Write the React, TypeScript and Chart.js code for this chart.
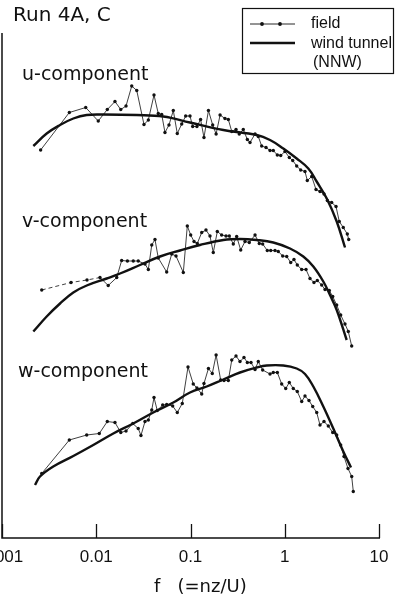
import { useEffect, useRef } from "react";
import { Chart, registerables } from "chart.js";

Chart.register(...registerables);

// Frequency axis ticks
const FREQ_TICKS = [0.001, 0.01, 0.1, 1, 10];
const FREQ_TICK_LABELS = ["0.001", "0.01", "0.1", "1", "10"];

// u-component
const uFieldF = [0.00257, 0.00518, 0.00773, 0.0105, 0.0131, 0.0158, 0.0182, 0.0207, 0.0238, 0.0269, 0.0321, 0.0357, 0.041, 0.0455, 0.0495, 0.0536, 0.0591, 0.0657, 0.0724, 0.0807, 0.0889, 0.0988, 0.1055, 0.117, 0.128, 0.139, 0.155, 0.172, 0.187, 0.206, 0.232, 0.252, 0.274, 0.304, 0.329, 0.363, 0.401, 0.428, 0.484, 0.524, 0.569, 0.633, 0.698, 0.756, 0.834, 0.906, 1.006, 1.118, 1.215, 1.339, 1.476, 1.64, 1.735, 1.932, 2.146, 2.366, 2.609, 2.83, 3.148, 3.5, 3.79, 4.18, 4.61, 4.77];
const uFieldS = [77.6, 85.1, 86.1, 83.4, 85.7, 87.3, 85.7, 86.4, 90.4, 89.5, 82.7, 83.6, 88.6, 84.9, 84.7, 81.1, 82.6, 85.5, 80.9, 82.8, 84.4, 84.4, 82.3, 82.3, 83.7, 80.1, 85.5, 82.6, 80.8, 84.6, 83.9, 83.7, 81.3, 81.7, 80.8, 81.7, 79.7, 79.1, 80.8, 80.3, 78.4, 78.1, 77.5, 77.5, 76.6, 76.5, 77.3, 76.1, 75.5, 74.4, 73.6, 73.3, 71.5, 72.3, 69.7, 69.3, 68.8, 67.5, 67.1, 66.3, 63.3, 62.1, 60.8, 59.7];
const uTunnelF = [0.00215, 0.00298, 0.00413, 0.00571, 0.00792, 0.0119, 0.0269, 0.0515, 0.0988, 0.223, 0.504, 0.698, 0.965, 1.339, 1.778, 2.18, 2.79, 3.56, 4.36];
const uTunnelS = [78.4, 80.9, 82.6, 83.9, 84.6, 84.7, 84.6, 84.3, 83.1, 81.6, 80.6, 79.6, 77.9, 75.9, 73.9, 71.3, 67.9, 63.3, 58.1];

// v-component
const vFieldF = [0.00264, 0.0054, 0.00798, 0.01096, 0.0134, 0.0165, 0.0186, 0.0214, 0.0247, 0.0279, 0.0329, 0.0357, 0.0388, 0.042, 0.0455, 0.0559, 0.0632, 0.0702, 0.0839, 0.0925, 0.1005, 0.109, 0.118, 0.1315, 0.146, 0.161, 0.1745, 0.1925, 0.214, 0.238, 0.258, 0.2845, 0.309, 0.341, 0.3786, 0.4206, 0.484, 0.537, 0.583, 0.653, 0.71, 0.788, 0.854, 0.951, 1.049, 1.157, 1.253, 1.359, 1.513, 1.681, 1.853, 2.043, 2.215, 2.466, 2.674, 2.97, 3.227, 3.557, 3.923, 4.357, 4.724, 5.133];
const vFieldS = [49.6, 51.1, 51.6, 52.1, 50.5, 52.1, 55.5, 55.4, 55.4, 55.4, 54.8, 53.7, 58.6, 59.7, 56.0, 53.2, 56.8, 56.4, 53.1, 62.4, 60.6, 59.3, 58.9, 61.1, 61.6, 60.4, 57.1, 61.3, 60.6, 60.4, 60.4, 58.8, 60.3, 57.6, 59.3, 59.1, 60.6, 58.9, 58.8, 57.5, 57.5, 57.5, 57.3, 56.4, 56.3, 55.1, 55.7, 54.6, 53.7, 53.7, 51.9, 51.1, 51.5, 50.6, 49.7, 49.5, 48.3, 46.6, 44.6, 42.8, 41.3, 38.4];
const vTunnelF = [0.00215, 0.00298, 0.00413, 0.00571, 0.00792, 0.0129, 0.0179, 0.0291, 0.0475, 0.0774, 0.126, 0.223, 0.335, 0.504, 0.756, 1.137, 1.573, 2.01, 2.565, 3.02, 3.56, 4.54];
const vTunnelS = [41.3, 44.3, 46.9, 49.1, 50.5, 51.9, 52.9, 54.6, 56.3, 57.5, 58.6, 59.6, 59.8, 59.6, 59.1, 57.9, 56.3, 54.3, 51.3, 48.6, 45.6, 39.6];
// the first few field segments of v are only dashed
const vDashedUntil = 3;

// w-component
const wFieldF = [0.00264, 0.00518, 0.00792, 0.01077, 0.0131, 0.0158, 0.0182, 0.0207, 0.0244, 0.0279, 0.0298, 0.0329, 0.0357, 0.0388, 0.041, 0.0444, 0.0507, 0.0559, 0.0647, 0.0724, 0.0818, 0.0941, 0.107, 0.117, 0.1315, 0.139, 0.155, 0.1703, 0.187, 0.209, 0.2267, 0.252, 0.274, 0.304, 0.335, 0.3694, 0.401, 0.4385, 0.484, 0.524, 0.583, 0.698, 0.756, 0.834, 0.928, 1.024, 1.118, 1.232, 1.359, 1.513, 1.64, 1.808, 1.98, 2.183, 2.366, 2.609, 2.898, 3.227, 3.557, 3.923, 4.253, 4.69, 5.133, 5.337];
const wFieldS = [12.9, 19.6, 20.6, 20.9, 23.3, 23.1, 21.1, 21.4, 22.9, 21.9, 20.5, 23.3, 23.6, 25.6, 28.1, 25.5, 26.6, 26.7, 26.4, 25.1, 26.9, 34.2, 30.8, 30.0, 28.8, 30.9, 33.9, 32.9, 36.6, 31.6, 31.5, 31.5, 35.6, 36.4, 35.3, 36.1, 35.1, 35.1, 33.7, 35.3, 33.6, 32.8, 33.1, 33.1, 30.8, 29.9, 31.1, 29.9, 29.3, 27.3, 28.4, 27.5, 26.3, 25.1, 22.6, 23.3, 22.4, 21.1, 20.6, 18.6, 16.3, 13.9, 12.3, 9.3];
const wTunnelF = [0.00224, 0.00253, 0.0035, 0.00571, 0.0093, 0.01517, 0.0247, 0.0403, 0.0657, 0.0988, 0.1486, 0.223, 0.335, 0.504, 0.6435, 0.965, 1.339, 1.64, 2.01, 2.565, 3.274, 4.18, 5.046];
const wTunnelS = [10.6, 12.3, 14.3, 16.4, 18.6, 20.9, 22.9, 25.1, 27.1, 29.1, 30.3, 31.7, 33.1, 34.1, 34.5, 34.5, 33.9, 32.8, 30.3, 26.3, 21.9, 17.3, 14.1];

const TITLE = "Run 4A, C";
const COMPONENT_LABELS = ["u-component", "v-component", "w-component"];
const AXIS_TITLE = "f   (=nz/U)";
const LEGEND_FIELD = "field";
const LEGEND_TUNNEL = ["wind tunnel", "(NNW)"];

const INK = "#111";

const zip = (f: number[], s: number[]) => f.map((x, i) => ({ x, y: s[i] }));

const fieldStyle = {
  showLine: true,
  borderColor: "#2a2a2a",
  borderWidth: 0.9,
  pointRadius: 1.7,
  pointHoverRadius: 1.7,
  pointBackgroundColor: INK,
  pointBorderWidth: 0,
  tension: 0,
};

const tunnelStyle = {
  showLine: true,
  borderColor: INK,
  borderWidth: 2.4,
  pointRadius: 0,
  tension: 0.4,
};

// Axes, inward ticks, labels and the boxed legend
const decorations = {
  id: "decorations",
  afterDraw(chart: any) {
    const { ctx, chartArea } = chart;
    const xs = chart.scales.x;
    ctx.save();
    ctx.strokeStyle = INK;
    ctx.fillStyle = INK;

    // frame: left and bottom axis lines
    ctx.lineWidth = 1.5;
    ctx.beginPath();
    ctx.moveTo(chartArea.left, chartArea.top);
    ctx.lineTo(chartArea.left, chartArea.bottom);
    ctx.lineTo(chartArea.right + 1, chartArea.bottom);
    ctx.stroke();

    // inward tick marks
    ctx.lineWidth = 1.3;
    FREQ_TICKS.forEach((v) => {
      const px = Math.round(xs.getPixelForValue(v)) + 0.5;
      ctx.beginPath();
      ctx.moveTo(px, chartArea.bottom);
      ctx.lineTo(px, chartArea.bottom - 14);
      ctx.stroke();
    });

    // headline
    ctx.textBaseline = "alphabetic";
    ctx.textAlign = "left";
    ctx.font = "20px 'DejaVu Sans'";
    ctx.fillText(TITLE, 13, 21);

    // component labels
    ctx.font = "19px 'DejaVu Sans'";
    ctx.fillText(COMPONENT_LABELS[0], 22, 80);
    ctx.fillText(COMPONENT_LABELS[1], 22, 227);
    ctx.fillText(COMPONENT_LABELS[2], 18, 377);

    // axis title
    ctx.font = "18px 'DejaVu Sans'";
    ctx.fillText(AXIS_TITLE, 154, 592);

    // legend box
    ctx.lineWidth = 1.2;
    ctx.strokeRect(242.5, 8.5, 151, 65);
    ctx.lineWidth = 0.9;
    ctx.beginPath();
    ctx.moveTo(250, 24);
    ctx.lineTo(295, 24);
    ctx.stroke();
    [262, 280].forEach((cx) => {
      ctx.beginPath();
      ctx.arc(cx, 24, 1.9, 0, Math.PI * 2);
      ctx.fill();
    });
    ctx.lineWidth = 2.4;
    ctx.beginPath();
    ctx.moveTo(250, 43);
    ctx.lineTo(295, 43);
    ctx.stroke();
    ctx.font = "16px 'Liberation Sans'";
    ctx.textBaseline = "middle";
    ctx.fillText(LEGEND_FIELD, 311, 24);
    ctx.fillText(LEGEND_TUNNEL[0], 311, 44);
    ctx.fillText(LEGEND_TUNNEL[1], 313, 63);
    ctx.restore();
  },
};

export default function App() {
  const canvasRef = useRef<HTMLCanvasElement | null>(null);

  useEffect(() => {
    const canvas = canvasRef.current;
    if (!canvas) return;
    const chart = new Chart(canvas, {
      type: "scatter",
      data: {
        datasets: [
          { ...tunnelStyle, label: "u wind tunnel", data: zip(uTunnelF, uTunnelS) },
          { ...tunnelStyle, label: "v wind tunnel", data: zip(vTunnelF, vTunnelS) },
          { ...tunnelStyle, label: "w wind tunnel", data: zip(wTunnelF, wTunnelS) },
          { ...fieldStyle, label: "u field", data: zip(uFieldF, uFieldS) },
          {
            ...fieldStyle,
            label: "v field",
            data: zip(vFieldF, vFieldS),
            segment: {
              borderDash: (c: any) => (c.p1DataIndex <= vDashedUntil ? [4, 3] : undefined),
            },
          },
          { ...fieldStyle, label: "w field", data: zip(wFieldF, wFieldS) },
        ] as any,
      },
      options: {
        animation: false,
        responsive: false,
        events: [],
        layout: {
          autoPadding: false,
          padding: { left: 2, right: 18, top: 33, bottom: 0 },
        } as any,
        plugins: {
          legend: { display: false },
          tooltip: { enabled: false },
          title: { display: false },
        },
        scales: {
          x: {
            type: "logarithmic",
            min: 0.001,
            max: 10,
            grid: { display: false, drawTicks: false },
            border: { display: false },
            afterBuildTicks: (scale: any) => {
              scale.ticks = FREQ_TICKS.map((value) => ({ value }));
            },
            afterFit: (scale: any) => {
              scale.height = 60;
              // let the edge labels run off the canvas instead of shrinking the plot
              scale.paddingLeft = 0;
              scale.paddingRight = 0;
            },
            ticks: {
              autoSkip: false,
              maxRotation: 0,
              padding: 9,
              color: INK,
              font: { family: "'Liberation Sans'", size: 17 },
              callback: (value: any) => {
                const i = FREQ_TICKS.indexOf(Number(value));
                return i >= 0 ? FREQ_TICK_LABELS[i] : "";
              },
            },
          },
          y: {
            type: "linear",
            min: 0,
            max: 101,
            display: false,
          },
        },
      },
      plugins: [decorations],
    });
    return () => chart.destroy();
  }, []);

  return (
    <div style={{ position: "absolute", left: 0, top: 0, width: 397, height: 598, background: "#fff" }}>
      <canvas ref={canvasRef} width={397} height={598} style={{ display: "block" }} />
    </div>
  );
}
